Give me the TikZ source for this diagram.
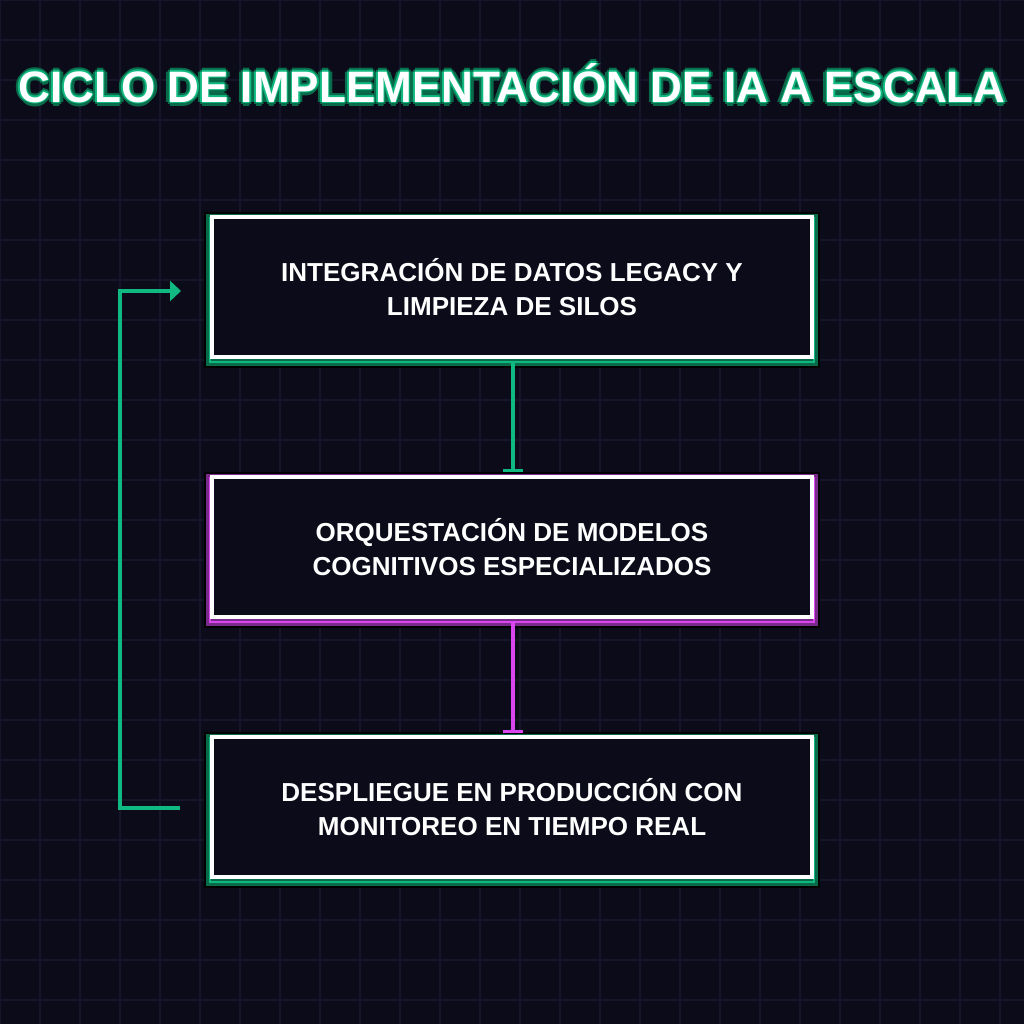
\documentclass[tikz,border=0pt]{standalone}
\usepackage{fontspec}
\setmainfont{Liberation Sans}
\usetikzlibrary{arrows.meta}
\definecolor{bg}{HTML}{0B0B1A}
\definecolor{gridc}{HTML}{16162A}
\definecolor{grn}{HTML}{10B981}
\definecolor{dgrn}{HTML}{0A6B4A}
\definecolor{mag}{HTML}{D946EF}
\definecolor{dmag}{HTML}{7A2A8A}
\newlength\pxu \setlength\pxu{0.025cm}
\tikzset{
  stepbox/.style={minimum width=600\pxu, minimum height=140\pxu, draw=white, line width=3.5\pxu, fill=bg, text=white, align=center, font=\bfseries\fontsize{18.5}{24.5}\selectfont, inner sep=0pt},
  titlefont/.style={font=\bfseries\fontsize{31.3}{36}\selectfont},
}
\newcommand\boxhalo[2]{%
  \draw[black, line width=11\pxu] (#1.north west) rectangle (#1.south east);
  \draw[#2, line width=7\pxu] (#1.north west) rectangle (#1.south east);
}
\begin{document}
\begin{tikzpicture}[x=0.025cm,y=-0.025cm]
\fill[bg] (0,0) rectangle (1024,1024);
\useasboundingbox (0,0) rectangle (1024,1024);
\foreach \i in {0,40,...,1000} {\draw[gridc, line width=1.2\pxu] (\i,0) -- (\i,1024); \draw[gridc, line width=1.2\pxu] (0,\i) -- (1024,\i);}
\foreach \dx/\dy in {-3/0,3/0,0/-3,0/3,-2/-2,2/2,-2/2,2/-2,-4/0,4/0,0/4,0/-4}
  \node[text=dgrn, titlefont] at (512+\dx,83+\dy) {CICLO DE IMPLEMENTACIÓN DE IA A ESCALA};
\foreach \dx/\dy in {-1.5/0,1.5/0,0/-1.5,0/1.5}
  \node[text=grn, titlefont] at (512+\dx,83+\dy) {CICLO DE IMPLEMENTACIÓN DE IA A ESCALA};
\node (title) [text=white, titlefont] at (512,83) {CICLO DE IMPLEMENTACIÓN DE IA A ESCALA};

\path (512,290) coordinate (c1) (512,550) coordinate (c2) (512,810) coordinate (c3);
\node[minimum width=604\pxu, minimum height=144\pxu, inner sep=0pt] (h1) at (c1) {};
\node[minimum width=604\pxu, minimum height=144\pxu, inner sep=0pt] (h2) at (c2) {};
\node[minimum width=604\pxu, minimum height=144\pxu, inner sep=0pt] (h3) at (c3) {};
\boxhalo{h1}{dgrn}\boxhalo{h2}{dmag}\boxhalo{h3}{dgrn}
\draw[grn, line width=2\pxu] (h1.north west) rectangle (h1.south east);
\draw[mag, line width=2\pxu] (h2.north west) rectangle (h2.south east);
\draw[grn, line width=2\pxu] (h3.north west) rectangle (h3.south east);
\node[stepbox] (b1) at (512,287) {INTEGRACIÓN DE DATOS LEGACY Y\\LIMPIEZA DE SILOS};
\node[stepbox] (b2) at (512,547) {ORQUESTACIÓN DE MODELOS\\COGNITIVOS ESPECIALIZADOS};
\node[stepbox] (b3) at (512,807) {DESPLIEGUE EN PRODUCCIÓN CON\\MONITOREO EN TIEMPO REAL};

\coordinate (t1) at (513,470);
\coordinate (t2) at (513,731);
\draw[grn, line width=3.5\pxu] (h1.south) ++(1,0) -- (t1);
\draw[grn, line width=3\pxu] (503,470) -- (523,470);
\draw[mag, line width=3.5\pxu] (h2.south) ++(1,0) -- (t2);
\draw[mag, line width=3\pxu] (503,731) -- (523,731);
\coordinate (fa) at (180,808);
\coordinate (fb) at (181,291);
\draw[grn, line width=3.5\pxu, -{Triangle[length=7.8pt,width=14.2pt]}] (fa) -- (120,808) -- (120,291) -- (fb);
\end{tikzpicture}
\end{document}
